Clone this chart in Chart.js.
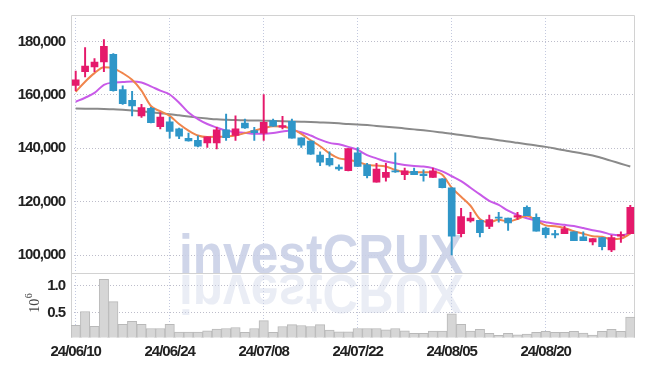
<!DOCTYPE html>
<html><head><meta charset="utf-8">
<script src="https://cdn.jsdelivr.net/npm/chart.js@4/dist/chart.umd.min.js"></script>
<style>html,body{margin:0;padding:0;background:#fff}#wrap{width:645px;height:366px}</style>
</head><body><div id="wrap"><canvas id="c" width="645" height="366"></canvas></div>
<script>
const dates = ['24/06/10','24/06/11','24/06/12','24/06/13','24/06/14','24/06/17','24/06/18','24/06/19','24/06/20','24/06/21',
'24/06/24','24/06/25','24/06/26','24/06/27','24/06/28','24/07/01','24/07/02','24/07/03','24/07/04','24/07/05',
'24/07/08','24/07/09','24/07/10','24/07/11','24/07/12','24/07/15','24/07/16','24/07/17','24/07/18','24/07/19',
'24/07/22','24/07/23','24/07/24','24/07/25','24/07/26','24/07/29','24/07/30','24/07/31','24/08/01','24/08/02',
'24/08/05','24/08/06','24/08/07','24/08/08','24/08/09','24/08/12','24/08/13','24/08/14','24/08/16','24/08/19',
'24/08/20','24/08/21','24/08/22','24/08/23','24/08/26','24/08/27','24/08/28','24/08/29','24/08/30','24/09/02'];
const tickLabels = ['24/06/10','24/06/24','24/07/08','24/07/22','24/08/05','24/08/20'];
const priceTicks = [100000,120000,140000,160000,180000];
const volumeTicks = [500000,1000000];

const openP = [163550,168700,170450,172400,175200,162000,157950,152150,155000,148150,
149950,147300,143700,143000,142050,142050,146900,144800,149500,146650,
145700,150350,147900,150100,143950,142750,137450,136250,132950,131600,
138350,133800,127300,129150,131600,130100,131350,130350,129150,128550,
125250,108050,112850,113000,110800,114200,113850,114200,117900,114200,
110150,108050,108050,108700,106850,105000,106600,101950,107100,108050];
const highP = [168950,177700,173650,180750,175500,163450,161350,156450,155350,153400,
151600,147550,145700,144700,144350,147900,152800,152150,150950,147900,
160150,150950,151950,150950,143950,142850,138700,138700,133800,139950,
140300,134400,134400,134400,138350,132600,132600,131950,132600,128700,
125250,117500,116050,113100,115050,116050,113850,116050,118500,115450,
110500,109300,110800,108700,108700,106200,106600,107450,108700,118700];
const lowP = [161600,166750,168700,168700,161400,156450,152150,151600,149500,147300,
143850,143600,142700,140550,140300,139800,143000,143000,147450,143000,
143000,148250,147300,143850,140300,137700,133550,133300,131750,131550,
133200,128900,127300,127700,131000,128300,130100,127700,129150,125200,
100100,106850,112350,106850,109900,112350,109300,113350,114800,108950,
106500,106500,108050,105400,105400,103800,101950,101350,104750,108050];
const closeP = [165650,170800,172300,178150,161600,156750,155850,155250,149600,151700,
146300,144600,142750,140800,144350,146900,143950,147300,147650,145900,
149750,148300,148500,143850,141150,137850,134800,133800,132300,139950,
133200,129750,132200,131000,131200,131600,130100,129750,131600,125250,
107100,114450,113850,108450,113350,113850,112100,114800,114800,108950,
107700,107600,109900,105400,105400,106200,103150,106600,107700,117900];

const ma5 = [161150,164950,168150,170350,169950,168150,165650,161600,155850,153900,
152150,149100,146650,144800,144250,144300,144450,144800,145700,146650,
147550,148300,148150,147300,145450,143000,140800,138100,136250,135750,
134950,133800,133550,133200,131950,131100,131000,131000,131100,130100,
125250,121900,118500,113550,112350,113250,112600,113550,114800,113000,
111150,110800,110150,108950,108050,107100,106850,106000,106200,108050];
const ma20 = [157450,158950,160750,163800,164650,164800,165050,164650,163200,161600,
160150,157100,153400,150950,149100,147800,146650,146050,145800,145450,
145450,145700,146300,146650,146050,144800,143250,142050,141500,140550,
139400,137450,136250,135050,134400,133800,133400,133200,132600,131350,
129550,127700,125250,122750,120350,118800,116650,115050,113850,113000,
112350,111750,111350,110900,110150,109300,108700,107700,107450,108050];
const ma120 = [154900,154850,154800,154750,154650,154450,154200,153900,153550,153150,
152800,152350,151900,151500,151150,150850,150700,150600,150500,150400,
150350,150250,150150,150050,149950,149850,149700,149550,149350,149100,
148950,148700,148400,148100,147800,147450,147100,146750,146350,145900,
145450,144950,144500,144000,143550,143050,142600,142050,141550,141050,
140550,139950,139250,138650,138000,137350,136350,135300,134250,133200];
const volume = [267000,524000,249000,1122000,707000,286000,341000,286000,207000,207000,
286000,139000,139000,139000,163000,194000,207000,225000,134000,207000,
353000,134000,244000,280000,262000,244000,280000,176000,145000,145000,
207000,207000,207000,182000,207000,163000,115000,115000,158000,158000,
482000,286000,158000,189000,115000,79000,115000,90000,103000,134000,
152000,134000,134000,152000,121000,84000,152000,189000,152000,420000];

const UP = '#e5196b', DOWN = '#2f96c8';
const candleColor = (i) => closeP[i] >= openP[i] ? UP : DOWN;
const TICK_FONT = {family: "'Liberation Sans','Arial',sans-serif", size: 15, weight: 'bold'};

const watermark = {
  id: 'watermark',
  beforeDraw(chart) {
    chart.ctx.letterSpacing = '-1px';
  },
  beforeDatasetsDraw(chart) {
    const ctx = chart.ctx;
    const ya = chart.scales.y;
    ctx.save();
    ctx.letterSpacing = '0px';
    ctx.font = "bold 56px 'Liberation Sans','DejaVu Sans',sans-serif";
    const txt = 'investCRUX';
    const w = ctx.measureText(txt).width;
    const sx = 284 / w;
    const left = 179, base = 273;
    ctx.textBaseline = 'alphabetic';
    ctx.textAlign = 'left';
    ctx.save();
    ctx.translate(left, base + 2);
    ctx.scale(sx, -1);
    ctx.fillStyle = 'rgba(206,212,232,0.42)';
    ctx.fillText(txt, 0, 0);
    ctx.restore();
    ctx.save();
    ctx.translate(left, base);
    ctx.scale(sx, 1);
    ctx.fillStyle = 'rgba(200,207,230,0.88)';
    ctx.fillText(txt, 0, 0);
    ctx.restore();
    const ca = chart.chartArea;
    ctx.strokeStyle = '#d2d2d2';
    ctx.lineWidth = 1;
    ctx.beginPath();
    ctx.moveTo(ca.left + 0.5, ca.bottom);
    ctx.lineTo(ca.left + 0.5, ca.top + 0.5);
    ctx.lineTo(ca.right - 0.5, ca.top + 0.5);
    ctx.lineTo(ca.right - 0.5, ca.bottom);
    ctx.moveTo(ca.left, Math.round(ya.bottom) + 0.5);
    ctx.lineTo(ca.right, Math.round(ya.bottom) + 0.5);
    ctx.stroke();
    ctx.restore();
  },
  afterDraw(chart) {
    const ctx = chart.ctx;
    const yv = chart.scales.yv;
    ctx.save();
    ctx.letterSpacing = '0px';
    ctx.translate(33, (yv.top + yv.bottom) / 2 - 2);
    ctx.rotate(-Math.PI / 2);
    ctx.fillStyle = '#444';
    ctx.textBaseline = 'middle';
    ctx.textAlign = 'left';
    ctx.font = "14px 'Liberation Serif','DejaVu Serif',serif";
    const w10 = ctx.measureText('10').width;
    ctx.font = "10px 'Liberation Serif','DejaVu Serif',serif";
    const w6 = ctx.measureText('6').width;
    const start = -(w10 + w6) / 2;
    ctx.font = "14px 'Liberation Serif','DejaVu Serif',serif";
    ctx.fillText('10', start, 2);
    ctx.font = "10px 'Liberation Serif','DejaVu Serif',serif";
    ctx.fillText('6', start + w10 + 0.5, -4);
    ctx.restore();
  }
};

new Chart(document.getElementById('c'), {
  type: 'bar',
  data: {
    labels: dates,
    datasets: [
      {
        label: 'body', yAxisID: 'y', order: 0, grouped: false,
        data: dates.map((_, i) => [openP[i], closeP[i]]),
        backgroundColor: (c) => candleColor(c.dataIndex),
        borderColor: (c) => candleColor(c.dataIndex),
        borderWidth: 0, borderSkipped: false, barThickness: 7, minBarLength: 1
      },
      {
        label: 'wick', yAxisID: 'y', order: 1, grouped: false,
        data: dates.map((_, i) => [lowP[i], highP[i]]),
        backgroundColor: (c) => candleColor(c.dataIndex),
        borderWidth: 0, barThickness: 1.3
      },
      { type: 'line', label: 'MA5', yAxisID: 'y', order: 2, data: ma5, borderColor: '#f0854c', borderWidth: 2, pointRadius: 0, cubicInterpolationMode: 'monotone' },
      { type: 'line', label: 'MA20', yAxisID: 'y', order: 3, data: ma20, borderColor: '#c85ae8', borderWidth: 2, pointRadius: 0, cubicInterpolationMode: 'monotone' },
      { type: 'line', label: 'MA120', yAxisID: 'y', order: 4, data: ma120, borderColor: '#8a8a8a', borderWidth: 2, pointRadius: 0, cubicInterpolationMode: 'monotone' },
      {
        label: 'volume', yAxisID: 'yv', order: 5, grouped: false,
        data: volume, backgroundColor: '#d6d6d6', borderColor: '#b9b9b9', borderWidth: 1,
        barPercentage: 1, categoryPercentage: 1
      }
    ]
  },
  options: {
    responsive: false, animation: false, devicePixelRatio: 1,
    layout: { padding: { top: 9, right: 10, left: 0, bottom: 0 } },
    plugins: { legend: { display: false }, tooltip: { enabled: false } },
    scales: {
      x: {
        type: 'category', offset: true,
        grid: { offset: false, drawTicks: false, lineWidth: 1,
          color: (c) => tickLabels.includes(dates[c.index]) ? '#c3c9df' : 'rgba(0,0,0,0)' },
        border: { display: false, dash: [1, 2] },
        ticks: { autoSkip: false, maxRotation: 0, minRotation: 0, padding: 5, color: '#222', font: TICK_FONT,
          callback: (v, i) => tickLabels.includes(dates[i]) ? dates[i] : '' },
        afterFit: (s) => { s.height = 28.5; }
      },
      yv: {
        position: 'left', stack: 'main', stackWeight: 65.5,
        min: 38500, max: 1238000,
        afterBuildTicks: (s) => { s.ticks = volumeTicks.map(v => ({ value: v })); },
        grid: { drawTicks: false, color: '#bdbdca' },
        border: { display: false, dash: [1, 2] },
        ticks: { padding: 6, color: '#222', font: TICK_FONT, callback: (v) => (v / 1e6).toFixed(1) },
        afterFit: (s) => { s.width = 71; }
      },
      y: {
        position: 'left', stack: 'main', stackWeight: 263,
        min: 93246, max: 189925,
        afterBuildTicks: (s) => { s.ticks = priceTicks.map(v => ({ value: v })); },
        grid: { drawTicks: false, color: '#bdbdca' },
        border: { display: false, dash: [1, 2] },
        ticks: { padding: 6, color: '#222', font: TICK_FONT, callback: (v) => v.toLocaleString('en-US') },
        afterFit: (s) => { s.width = 71; }
      }
    }
  },
  plugins: [watermark]
});
</script>
</body></html>
